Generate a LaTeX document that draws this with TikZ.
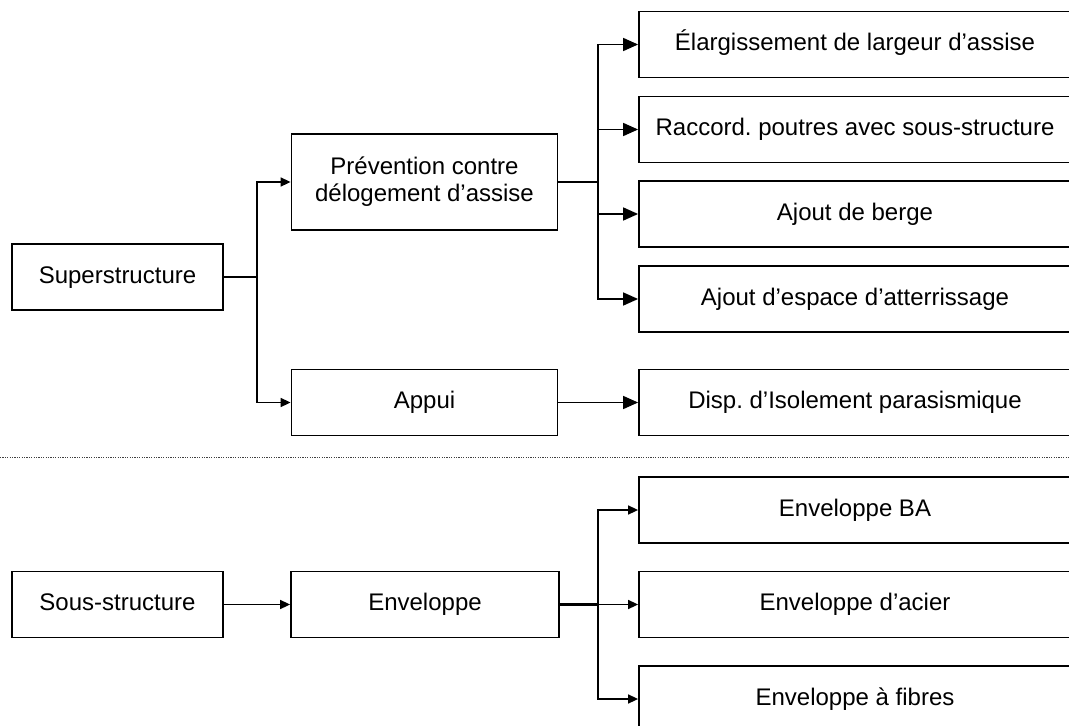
\documentclass[tikz,border=0pt]{standalone}
\usepackage{fontspec}
\setmainfont{Liberation Sans}
\frenchspacing
\usepackage{tikz}
\usetikzlibrary{arrows.meta,positioning,calc}

\begin{document}
\begin{tikzpicture}[x=1pt,y=-1pt,font=\fontsize{24}{27}\selectfont]
  \tikzstyle{block} = [draw=black,line width=1.8pt,fill=none,text=black,minimum width=211pt,minimum height=66pt,inner sep=0pt,align=center,text height=17pt,text depth=5pt]
  \tikzstyle{mid} = [block,minimum width=266pt]
  \tikzstyle{leaf} = [block,minimum width=432pt]
  \tikzstyle{bigarr} = [draw=black,line width=1.6pt,-{Triangle[length=15pt,width=13pt]}]
  \tikzstyle{smallarr} = [draw=black,line width=1.6pt,-{Triangle[length=10pt,width=9pt]}]
  \tikzstyle{trunk} = [draw=black,line width=1.6pt]

  \clip (0,0) rectangle (1069,726);

  % superstructure
  \node[block] (Super) at (117.5,277) {Superstructure};
  \node[mid,minimum height=96pt,text height=,text depth=] (Prev) at (424.5,182) {Prévention contre\\délogement d’assise};
  \node[mid] (Appui) at (424.5,402.5) {Appui};

  \node[leaf] (Leaf_0) at (855,44.5) {Élargissement de largeur d’assise};
  \node[leaf] (Leaf_1) at (855,129.5) {Raccord. poutres avec sous-structure};
  \node[leaf] (Leaf_2) at (855,214) {Ajout de berge};
  \node[leaf] (Leaf_3) at (855,299) {Ajout d’espace d’atterrissage};
  \node[leaf] (Leaf_4) at (855,402.5) {Disp. d’Isolement parasismique};

  \coordinate (J_super) at (257,277);
  \coordinate (J_prev) at (598,182);

  \draw [trunk] (Super.east) -- (J_super);
  \draw [smallarr] (J_super) |- (Prev.west);
  \draw [smallarr] (J_super) |- (Appui.west);

  \draw [trunk] (Prev.east) -- (J_prev);
  \draw [bigarr] (J_prev) |- (Leaf_0.west);
  \draw [bigarr] (J_prev) |- (Leaf_1.west);
  \draw [bigarr] (J_prev) |- (Leaf_2.west);
  \draw [bigarr] (J_prev) |- (Leaf_3.west);

  \draw [bigarr] (Appui.east) -- (Leaf_4.west);

  % separator
  \draw [draw=black!75,line width=0.8pt,dash pattern=on 1.2pt off 1.2pt] (0,457) -- (1069,457);

  % sous-structure
  \node[block] (Sous) at (117.5,604.5) {Sous-structure};
  \node[mid,minimum width=268pt] (Env) at (425,604.5) {Enveloppe};

  \node[leaf] (Env_0) at (855,510) {Enveloppe BA};
  \node[leaf] (Env_1) at (855,604.5) {Enveloppe d’acier};
  \node[leaf] (Env_2) at (855,699) {Enveloppe à fibres};

  \coordinate (J_env) at (598,604.5);

  \draw [smallarr] (Sous.east) -- (Env.west);
  \draw [trunk,line width=2.6pt] (Env.east) -- (J_env);
  \draw [smallarr] (J_env) |- (Env_0.west);
  \draw [smallarr] (J_env) -- (Env_1.west);
  \draw [smallarr] (J_env) |- (Env_2.west);
\end{tikzpicture}
\end{document}
